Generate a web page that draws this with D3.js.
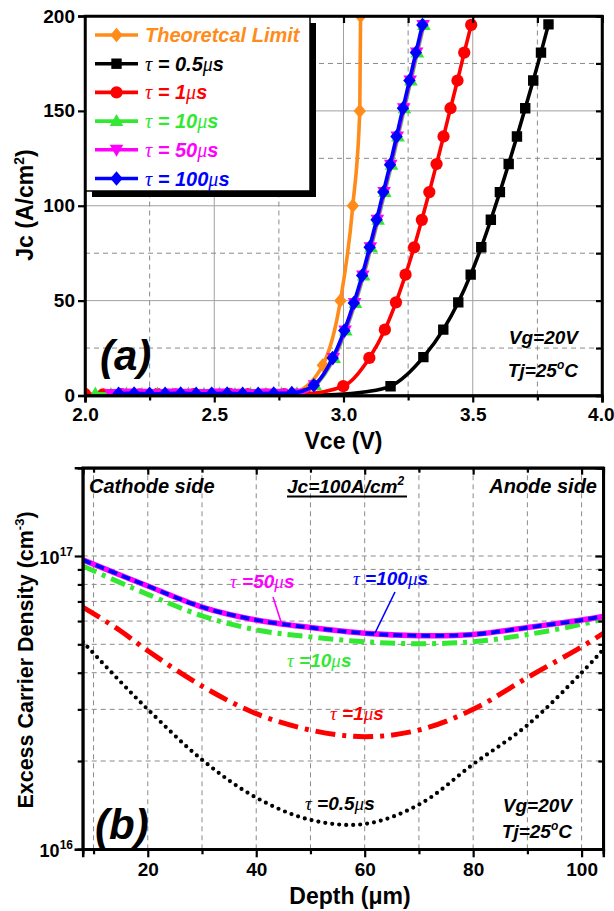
<!DOCTYPE html>
<html><head><meta charset="utf-8">
<script src="https://cdn.jsdelivr.net/npm/d3@7"></script>
<style>
body{margin:0;background:#fff}
svg{display:block}
text{font-family:"Liberation Sans",Arial,sans-serif;font-weight:bold}
.serif{font-family:"Liberation Serif","Times New Roman",serif;font-style:italic;font-weight:normal}
</style>
</head><body>
<svg id="c" width="614" height="911"></svg>
<script>
// ---------------- Panel (a) data : Jc (A/cm2) vs Vce (V) ----------------
const xTicksA = [2.0, 2.5, 3.0, 3.5, 4.0];
const xMinorA = [2.25, 2.75, 3.25, 3.75];
const yTicksA = [0, 50, 100, 150, 200];
const yMinorA = [25, 75, 125, 175];

const theoryV = [2.80, 2.92, 2.988, 3.036, 3.063, 3.066];
const theoryJ = [0.3, 16, 50, 100, 150, 200];

const riseJ = [5.4, 19.8, 34.2, 48.8, 63.3, 78.1, 92.6, 107.2, 121.6, 136.5, 151.4, 166, 180.7, 195.3];

const t05TailV = [2.85, 2.97, 3.08];
const t05TailJ = [0.2, 0.5, 1.8];
const t05V = [3.182, 3.309, 3.386, 3.444, 3.492, 3.533, 3.570, 3.605, 3.639, 3.671, 3.703, 3.734, 3.764, 3.793];
const t05J = [4.9, 20.2, 34.7, 49.1, 63.7, 78.1, 92.6, 107.2, 122, 136.5, 151.4, 166, 180.7, 195.6];

const t1LowV = [2.00, 2.07, 2.14, 2.21, 2.28, 2.35, 2.42, 2.49, 2.56, 2.63, 2.70, 2.77, 2.85];
const t1LowJ = [0.8, 0.6, 0.7, 0.6, 0.8, 0.6, 0.7, 0.6, 0.8, 0.7, 0.6, 0.7, 0.9];
const t1V = [2.999, 3.100, 3.160, 3.203, 3.240, 3.273, 3.303, 3.332, 3.360, 3.387, 3.414, 3.441, 3.467, 3.494];
const t1J = [4.9, 19.8, 34.7, 49.1, 63.7, 78.1, 92.6, 107.2, 122, 136.5, 151.4, 166, 180.7, 195.3];

const t10LowV = [2.04, 2.10, 2.16, 2.22, 2.28, 2.34, 2.40, 2.46, 2.52, 2.58, 2.64, 2.70, 2.76, 2.82];
const t10LowJ = [1.0, 0.8, 1.0, 0.9, 1.0, 0.8, 1.0, 0.9, 1.0, 0.8, 1.0, 0.9, 1.0, 1.2];
const t10V = [2.891, 2.964, 3.009, 3.046, 3.078, 3.107, 3.134, 3.160, 3.186, 3.211, 3.236, 3.261, 3.286, 3.311];

const t50LowV = [2.10, 2.16, 2.22, 2.28, 2.34, 2.40, 2.46, 2.52, 2.58, 2.64, 2.70, 2.76, 2.82];
const t50LowJ = [0.8, 1.0, 0.9, 0.8, 1.0, 0.9, 0.8, 1.0, 0.9, 0.8, 1.0, 0.9, 1.1];
const t50V = [2.888, 2.961, 3.006, 3.043, 3.075, 3.104, 3.131, 3.157, 3.183, 3.208, 3.233, 3.258, 3.283, 3.308];

const t100LowV = [2.13, 2.19, 2.25, 2.31, 2.37, 2.43, 2.49, 2.55, 2.61, 2.67, 2.73, 2.80];
const t100LowJ = [1.0, 1.1, 0.9, 1.0, 1.1, 0.9, 1.0, 1.1, 0.9, 1.0, 1.1, 1.3];
const t100V = [2.885, 2.958, 3.003, 3.040, 3.072, 3.101, 3.128, 3.154, 3.180, 3.205, 3.230, 3.255, 3.280, 3.305];

// ---------------- Panel (b) data : carrier density vs depth ----------------
const depth = [8, 15, 20, 30, 40, 50, 60, 70, 80, 90, 100, 104];
const n05  = [5.1e16, 3.72e16, 3.0e16, 2.02e16, 1.5e16, 1.26e16, 1.22e16, 1.42e16, 1.95e16, 2.65e16, 4.0e16, 4.8e16];
const n1   = [6.7e16, 5.55e16, 4.75e16, 3.6e16, 2.9e16, 2.55e16, 2.42e16, 2.55e16, 3.0e16, 3.85e16, 4.9e16, 5.45e16];
const n10  = [9.25e16, 8.1e16, 7.4e16, 6.25e16, 5.6e16, 5.3e16, 5.1e16, 5.02e16, 5.1e16, 5.4e16, 5.85e16, 6.1e16];
const n50  = [9.7e16, 8.6e16, 7.9e16, 6.7e16, 6.05e16, 5.7e16, 5.45e16, 5.35e16, 5.4e16, 5.7e16, 6.05e16, 6.22e16];
const n100 = [9.7e16, 8.6e16, 7.9e16, 6.7e16, 6.05e16, 5.7e16, 5.45e16, 5.35e16, 5.4e16, 5.7e16, 6.05e16, 6.22e16];
const xTicksB = [20, 40, 60, 80, 100];
const xMinorB = [10, 30, 50, 70, 90];
const yMajorB = [1e16, 1e17];
const yMinorB = [2e16, 3e16, 4e16, 5e16, 6e16, 7e16, 8e16, 9e16, 2e17];

// ---------------- drawing ----------------
const svg = d3.select("#c");
const C = {orange:"#ff8c1a", black:"#000", red:"#ff0000", green:"#33e833", magenta:"#ff00ff", blue:"#0000ff"};

function markerPath(shape){
  switch(shape){
    case "diamond": return "M0,-7.2L6.2,0L0,7.2L-6.2,0Z";
    case "square": return "M-5.2,-5.2h10.4v10.4h-10.4Z";
    case "circle": return d3.symbol(d3.symbolCircle, 118)();
    case "up": return "M0,-7L6.8,5L-6.8,5Z";
    case "down": return "M0,7L6.8,-5L-6.8,-5Z";
  }
}

// ===== Panel (a) =====
const xA = d3.scaleLinear().domain([2, 4]).range([85, 602]);
const yA = d3.scaleLinear().domain([0, 200]).range([395.5, 16]);
const gA = svg.append("g");

// grid
gA.selectAll(".gmx").data(xTicksA.slice(1, -1)).join("line")
  .attr("x1", d => xA(d)).attr("x2", d => xA(d)).attr("y1", yA(0)).attr("y2", yA(200))
  .attr("stroke", "#a0a0a0").attr("stroke-width", 1);
gA.selectAll(".gmy").data(yTicksA.slice(1, -1)).join("line")
  .attr("y1", d => yA(d)).attr("y2", d => yA(d)).attr("x1", xA(2)).attr("x2", xA(4))
  .attr("stroke", "#a0a0a0").attr("stroke-width", 1);
gA.selectAll(".gnx").data(xMinorA).join("line")
  .attr("x1", d => xA(d)).attr("x2", d => xA(d)).attr("y1", yA(0)).attr("y2", yA(200))
  .attr("stroke", "#8a8a8a").attr("stroke-width", 1).attr("stroke-dasharray", "5,4");
gA.selectAll(".gny").data(yMinorA).join("line")
  .attr("y1", d => yA(d)).attr("y2", d => yA(d)).attr("x1", xA(2)).attr("x2", xA(4))
  .attr("stroke", "#8a8a8a").attr("stroke-width", 1).attr("stroke-dasharray", "5,4");

svg.append("clipPath").attr("id", "clipA").append("rect")
  .attr("x", xA(2)).attr("y", yA(200)).attr("width", xA(4) - xA(2)).attr("height", yA(0) - yA(200));

const seriesA = [
  {color: C.orange, shape: "diamond", V: theoryV, J: theoryJ, tailV: [], tailJ: []},
  {color: C.black, shape: "square", V: t05V, J: t05J, tailV: t05TailV, tailJ: t05TailJ},
  {color: C.red, shape: "circle", V: t1LowV.concat(t1V), J: t1LowJ.concat(t1J), tailV: [], tailJ: []},
  {color: C.green, shape: "up", V: t10LowV.concat(t10V), J: t10LowJ.concat(riseJ), tailV: [], tailJ: []},
  {color: C.magenta, shape: "down", V: t50LowV.concat(t50V), J: t50LowJ.concat(riseJ), tailV: [], tailJ: []},
  {color: C.blue, shape: "diamond", V: t100LowV.concat(t100V), J: t100LowJ.concat(riseJ), tailV: [], tailJ: []}
];
const lineA = d3.line().x(d => xA(d[0])).y(d => yA(d[1])).curve(d3.curveMonotoneX);
const dataG = gA.append("g").attr("clip-path", "url(#clipA)");
seriesA.forEach(s => {
  const pts = s.tailV.map((v, i) => [v, s.tailJ[i]]).concat(s.V.map((v, i) => [v, s.J[i]]));
  dataG.append("path").attr("d", lineA(pts)).attr("fill", "none")
    .attr("stroke", s.color).attr("stroke-width", 3.6);
  dataG.selectAll(null).data(s.V.map((v, i) => [v, s.J[i]])).join("path")
    .attr("d", markerPath(s.shape))
    .attr("transform", d => `translate(${xA(d[0])},${yA(d[1])})`)
    .attr("fill", s.color);
});

// axes panel (a)
const axB = gA.append("g").attr("transform", `translate(0,${yA(0)})`)
  .call(d3.axisBottom(xA).tickValues(xTicksA).tickSize(7).tickFormat(d3.format(".1f")));
gA.append("g").attr("transform", `translate(0,${yA(0)})`)
  .call(d3.axisBottom(xA).tickValues(xMinorA).tickSize(5).tickFormat(""));
const axL = gA.append("g").attr("transform", `translate(${xA(2)},0)`)
  .call(d3.axisLeft(yA).tickValues(yTicksA).tickSize(7).tickFormat(d3.format("d")));
gA.append("g").attr("transform", `translate(${xA(4)},0)`)
  .call(d3.axisLeft(yA).tickValues(yTicksA.concat(yMinorA)).tickSize(6).tickFormat(""));
gA.append("g").attr("transform", `translate(0,${yA(200)})`)
  .call(d3.axisBottom(xA).tickValues(xTicksA.concat(xMinorA)).tickSize(7).tickFormat(""));

// ===== Panel (b) =====
const xB = d3.scaleLinear().domain([8, 104]).range([82.7, 603.3]);
const yB = d3.scaleLog().domain([1e16, 2e17]).range([849.3, 467.7]);
const gB = svg.append("g");

gB.selectAll(".gbx").data(xMinorB.concat(xTicksB)).join("line")
  .attr("x1", d => xB(d)).attr("x2", d => xB(d)).attr("y1", yB(1e16)).attr("y2", yB(2e17))
  .attr("stroke", "#8a8a8a").attr("stroke-width", 1).attr("stroke-dasharray", "5,4");
gB.selectAll(".gby").data(yMinorB.slice(0, -1).concat([1e17])).join("line")
  .attr("y1", d => yB(d)).attr("y2", d => yB(d)).attr("x1", xB(8)).attr("x2", xB(104))
  .attr("stroke", "#8a8a8a").attr("stroke-width", 1).attr("stroke-dasharray", "5,4");

svg.append("clipPath").attr("id", "clipB").append("rect")
  .attr("x", xB(8)).attr("y", yB(2e17)).attr("width", xB(104) - xB(8)).attr("height", yB(1e16) - yB(2e17));

const lineB = d3.line().x(d => xB(d[0])).y(d => yB(d[1])).curve(d3.curveCatmullRom.alpha(0.5));
const dB = gB.append("g").attr("clip-path", "url(#clipB)");
const seriesB = [
  {n: n05, color: C.black, w: 4.2, dash: "0,7", cap: "round"},
  {n: n1, color: C.red, w: 5, dash: "20,7,4,7", cap: "butt"},
  {n: n10, color: C.green, w: 5, dash: "15,6,4,6", cap: "butt"},
  {n: n50, color: C.magenta, w: 5.5, dash: null, cap: "butt"},
  {n: n100, color: C.blue, w: 3.8, dash: "9,5", cap: "butt"}
];
seriesB.forEach(s => {
  dB.append("path").attr("d", lineB(depth.map((x, i) => [x, s.n[i]])))
    .attr("fill", "none").attr("stroke", s.color).attr("stroke-width", s.w)
    .attr("stroke-dasharray", s.dash).attr("stroke-linecap", s.cap);
});

gB.append("g").attr("transform", `translate(0,${yB(1e16)})`)
  .call(d3.axisBottom(xB).tickValues(xTicksB).tickSize(8).tickFormat(d3.format("d")));
gB.append("g").attr("transform", `translate(0,${yB(1e16)})`)
  .call(d3.axisBottom(xB).tickValues(xMinorB).tickSize(5).tickFormat(""));
gB.append("g").attr("transform", `translate(0,${yB(2e17)})`)
  .call(d3.axisBottom(xB).tickValues(xTicksB).tickSize(7).tickFormat(""));
gB.append("g").attr("transform", `translate(0,${yB(2e17)})`)
  .call(d3.axisBottom(xB).tickValues(xMinorB).tickSize(5).tickFormat(""));
gB.append("g").attr("transform", `translate(${xB(8)},0)`)
  .call(d3.axisLeft(yB).tickValues(yMajorB).tickSize(8).tickFormat(""));
gB.append("g").attr("transform", `translate(${xB(8)},0)`)
  .call(d3.axisLeft(yB).tickValues(yMinorB).tickSize(5).tickFormat(""));
gB.append("g").attr("transform", `translate(${xB(104)},0)`)
  .call(d3.axisRight(yB).tickValues(yMajorB).tickSize(-8).tickFormat(""));
gB.append("g").attr("transform", `translate(${xB(104)},0)`)
  .call(d3.axisRight(yB).tickValues(yMinorB).tickSize(-5).tickFormat(""));

// log labels
yMajorB.forEach(v => {
  const t = gB.append("text").attr("x", 73).attr("y", yB(v) + 8).attr("text-anchor", "end")
    .attr("font-size", 18).attr("fill", "#000");
  t.append("tspan").text("10");
  t.append("tspan").attr("dy", -8).attr("font-size", 12).text(String(Math.round(Math.log10(v))));
});

// style all axes
svg.selectAll(".domain").attr("stroke", "#000").attr("stroke-width", 2.5);
svg.selectAll(".tick line").attr("stroke", "#000").attr("stroke-width", 2.2);
svg.selectAll(".tick text").attr("font-size", 19).attr("fill", "#000")
  .style("font-family", '"Liberation Sans",Arial,sans-serif').style("font-weight", "bold");
axL.selectAll(".tick text").attr("x", -10);
axB.selectAll(".tick text").attr("y", 12);
axB.selectAll(".tick text").filter(d => d === 4).attr("text-anchor", "end").attr("dx", 12);
gB.selectAll(".tick text").attr("y", 13);

// frame rectangles
svg.append("rect").attr("x", xA(2)).attr("y", yA(200)).attr("width", xA(4) - xA(2)).attr("height", yA(0) - yA(200))
  .attr("fill", "none").attr("stroke", "#000").attr("stroke-width", 2.5);
svg.append("rect").attr("x", xB(8)).attr("y", yB(2e17)).attr("width", xB(104) - xB(8)).attr("height", yB(1e16) - yB(2e17))
  .attr("fill", "none").attr("stroke", "#000").attr("stroke-width", 2.5);

// ===== Legend panel (a) =====
const legendItems = [
  {label: ["Theoretcal Limit"], color: C.orange, shape: "diamond"},
  {label: ["τ", " = 0.5", "μ", "s"], color: C.black, shape: "square"},
  {label: ["τ", " = 1", "μ", "s"], color: C.red, shape: "circle"},
  {label: ["τ", " = 10", "μ", "s"], color: C.green, shape: "up"},
  {label: ["τ", " = 50", "μ", "s"], color: C.magenta, shape: "down"},
  {label: ["τ", " = 100", "μ", "s"], color: C.blue, shape: "diamond"}
];
const lg = svg.append("g");
lg.append("rect").attr("x", 92).attr("y", 23).attr("width", 224).attr("height", 174).attr("fill", "#000");
lg.append("rect").attr("x", 86).attr("y", 17).attr("width", 224).attr("height", 174)
  .attr("fill", "#fff").attr("stroke", "#000").attr("stroke-width", 1.5);
legendItems.forEach((it, i) => {
  const cy = 35 + i * 28.7;
  lg.append("line").attr("x1", 95).attr("x2", 138).attr("y1", cy).attr("y2", cy)
    .attr("stroke", it.color).attr("stroke-width", 3.6);
  lg.append("path").attr("d", markerPath(it.shape)).attr("transform", `translate(116.5,${cy})`).attr("fill", it.color);
  const t = lg.append("text").attr("x", 145).attr("y", cy + 7).attr("font-size", 20)
    .attr("font-style", "italic").attr("fill", it.color);
  it.label.forEach(p => {
    const sp = t.append("tspan").text(p);
    if (p === "τ" || p === "μ") sp.attr("class", "serif");
  });
});

// ===== Texts =====
function richText(g, x, y, parts, opts) {
  const t = g.append("text").attr("x", x).attr("y", y).attr("font-size", opts.size || 20)
    .attr("fill", opts.color || "#000").attr("text-anchor", opts.anchor || "start");
  if (opts.italic !== false) t.attr("font-style", "italic");
  parts.forEach(p => {
    const sp = t.append("tspan").text(p.t);
    if (p.serif) sp.attr("class", "serif");
    if (p.sup) sp.attr("dy", p.sup).attr("font-size", p.size || 12);
    if (p.dy) sp.attr("dy", p.dy);
  });
  return t;
}
// panel (a)
richText(svg, 100, 370, [{t: "(a)"}], {size: 42});
richText(svg, 578, 344, [{t: "Vg=20V"}], {size: 19, anchor: "end"});
richText(svg, 578, 377, [{t: "Tj=25"}, {t: "o", sup: -8, size: 12}, {t: "C", dy: 8}], {size: 19, anchor: "end"});
svg.append("text").attr("x", xA(3)).attr("y", 449).attr("text-anchor", "middle").attr("font-size", 23).text("Vce (V)");
const ta = svg.append("text").attr("transform", "translate(33,205) rotate(-90)").attr("text-anchor", "middle").attr("font-size", 23);
ta.append("tspan").text("Jc (A/cm");
ta.append("tspan").attr("dy", -9).attr("font-size", 14).text("2");
ta.append("tspan").attr("dy", 9).text(")");

// panel (b)
richText(svg, 89, 493, [{t: "Cathode side"}], {size: 20});
richText(svg, 597, 493, [{t: "Anode side"}], {size: 20, anchor: "end"});
richText(svg, 287, 493, [{t: "Jc=100A/cm"}, {t: "2", sup: -8, size: 12}], {size: 19});
svg.append("line").attr("x1", 287).attr("x2", 407).attr("y1", 496.5).attr("y2", 496.5).attr("stroke", "#000").attr("stroke-width", 1.8);
richText(svg, 230, 588, [{t: "τ", serif: true}, {t: " =50"}, {t: "μ", serif: true}, {t: "s"}], {size: 19, color: C.magenta});
richText(svg, 353, 585, [{t: "τ", serif: true}, {t: " =100"}, {t: "μ", serif: true}, {t: "s"}], {size: 19, color: C.blue});
richText(svg, 287, 667, [{t: "τ", serif: true}, {t: " =10"}, {t: "μ", serif: true}, {t: "s"}], {size: 19, color: C.green});
richText(svg, 330, 720, [{t: "τ", serif: true}, {t: " =1"}, {t: "μ", serif: true}, {t: "s"}], {size: 19, color: C.red});
richText(svg, 305, 810, [{t: "τ", serif: true}, {t: " =0.5"}, {t: "μ", serif: true}, {t: "s"}], {size: 19, color: "#000"});
svg.append("line").attr("x1", 273).attr("y1", 597).attr("x2", 282).attr("y2", 625).attr("stroke", C.magenta).attr("stroke-width", 1.6);
svg.append("line").attr("x1", 395).attr("y1", 592).attr("x2", 375).attr("y2", 633).attr("stroke", C.blue).attr("stroke-width", 1.6);
richText(svg, 95, 839, [{t: "(b)"}], {size: 42});
richText(svg, 572, 812, [{t: "Vg=20V"}], {size: 19, anchor: "end"});
richText(svg, 572, 838, [{t: "Tj=25"}, {t: "o", sup: -8, size: 12}, {t: "C", dy: 8}], {size: 19, anchor: "end"});
svg.append("text").attr("x", 350).attr("y", 904).attr("text-anchor", "middle").attr("font-size", 23).text("Depth (μm)");
const tb = svg.append("text").attr("transform", "translate(33,660) rotate(-90)").attr("text-anchor", "middle").attr("font-size", 21.5);
tb.append("tspan").text("Excess Carrier Density (cm");
tb.append("tspan").attr("dy", -9).attr("font-size", 13).text("-3");
tb.append("tspan").attr("dy", 9).text(")");
</script>
</body></html>
